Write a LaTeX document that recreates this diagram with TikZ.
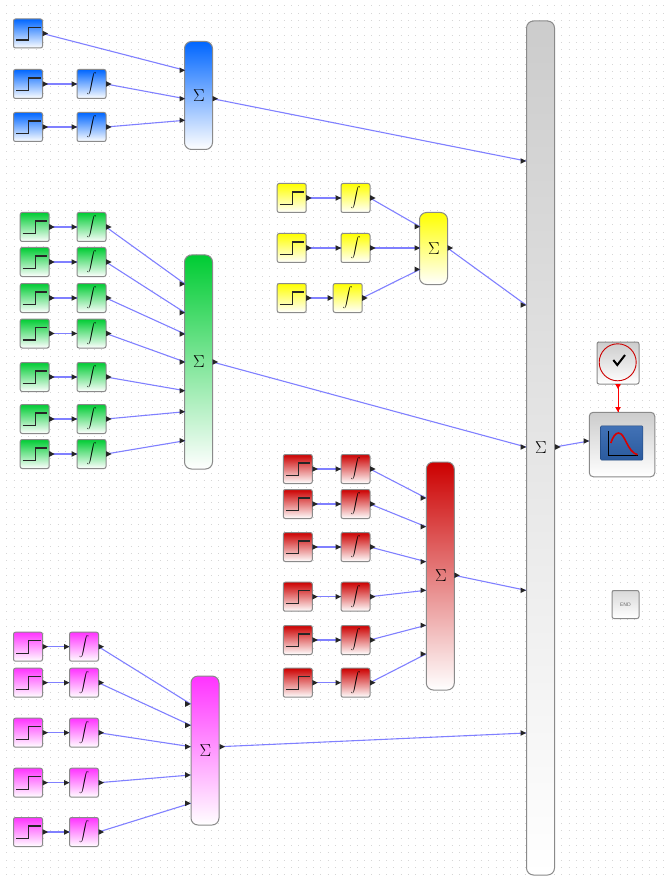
\documentclass[tikz,border=0pt]{standalone}
\usepackage{tikz}
\usetikzlibrary{arrows}
\definecolor{wirecol}{HTML}{8080FF}
\definecolor{edgecol}{HTML}{8A8A8A}
\definecolor{bluecol}{HTML}{0066FF}
\definecolor{greencol}{HTML}{00CC33}
\definecolor{yellowcol}{HTML}{FFFF00}
\definecolor{redcol}{HTML}{CC0000}
\definecolor{pinkcol}{HTML}{FF33FF}
\definecolor{graycol}{HTML}{CCCCCC}
\definecolor{screentop}{HTML}{4272B6}
\definecolor{screenbot}{HTML}{2A5A9E}
\tikzset{
  block/.style={draw=edgecol,line width=1pt,inner sep=0pt,outer sep=0pt,rounded corners=2pt,top color=#1,bottom color=white},
  stepbox/.style={block=#1,minimum width=29pt,minimum height=29pt},
  intbox/.style={block=#1,minimum width=29pt,minimum height=29pt,font=\large},
  sumbox/.style={block=#1,minimum width=28pt,rounded corners=7pt,font=\LARGE},
  wire/.style={draw=wirecol,line width=1.1pt},
  port/.style={fill=black!85},
  stepline/.style={draw=black!85,line width=1.1pt}
}
\newcommand{\wire}[2]{\draw[wire] (#1) -- (#2);
  \fill[port] (#1) ++(0,-2.8) -- ++(5.5,2.8) -- ++(-5.5,2.8) -- cycle;
  \fill[port] (#2) ++(-5.5,-2.8) -- ++(5.5,2.8) -- ++(-5.5,2.8) -- cycle;}
% source block, integrator block and the wire between them
\newcommand{\source}[5]{
  \node[stepbox=#2] (#1s) at (#3,#5) {};
  \draw[stepline] ([shift={(-12,6.5)}]#1s.center) -- ++(12.5,0) -- ++(0,-12.5) -- ++(12,0);
  \node[intbox=#2] (#1i) at (#4,#5) {$\displaystyle\int$};
  \wire{#1s.east}{#1i.west}
}
\begin{document}
\begin{tikzpicture}[x=1pt,y=-1pt]
\useasboundingbox (0,0) rectangle (667,882);
\fill[white] (0,0) rectangle (667,882);
% dotted grid
\foreach \y in {6,13.3,...,881}
  \draw[black!16,line width=1pt,dash pattern=on 1pt off 6.3pt] (6.4,\y) -- (667,\y);

% big sum, everything ends here
\node[sumbox=graycol,minimum height=854pt,font=\LARGE] (total) at (540.5,448) {\kern1pt$\Sigma$};

% blue group
\node[sumbox=bluecol,minimum height=108pt] (bsum) at (198.5,95.5) {\kern1pt$\Sigma$};
\node[stepbox=bluecol] (b1s) at (28,33.5) {};
\draw[stepline] ([shift={(-12,6.5)}]b1s.center) -- ++(12.5,0) -- ++(0,-12.5) -- ++(12,0);
\source{b2}{bluecol}{28}{91.5}{84}
\source{b3}{bluecol}{28}{91.5}{127}
\coordinate (bin1) at (185,70.3);
\coordinate (bin2) at (185,98.7);
\coordinate (bin3) at (185,120.3);
\wire{b1s.east}{bin1}
\wire{b2i.east}{bin2}
\wire{b3i.east}{bin3}

% green group
\node[sumbox=greencol,minimum height=214pt] (gsum) at (198.5,362) {\kern1pt$\Sigma$};
\foreach \n/\y/\t in {1/227/284,2/262/312.7,3/298/334,4/333.5/362,5/377/390.7,6/419/411.7,7/454/440.7} {
  \source{g\n}{greencol}{34.7}{91.5}{\y}
  \coordinate (gin\n) at (185,\t);
  \wire{g\n i.east}{gin\n}
}

% yellow group
\node[sumbox=yellowcol,minimum height=72pt] (ysum) at (433.5,248.5) {\kern1pt$\Sigma$};
\source{y1}{yellowcol}{291.7}{355.5}{198}
\source{y2}{yellowcol}{291.7}{355.5}{248}
\source{y3}{yellowcol}{291.7}{347.7}{298}
\coordinate (yin1) at (420,226.7);
\coordinate (yin2) at (420,248);
\coordinate (yin3) at (420,269.3);
\wire{y1i.east}{yin1}
\wire{y2i.east}{yin2}
\wire{y3i.east}{yin3}

% red group
\node[sumbox=redcol,minimum height=228pt] (rsum) at (440.3,576) {\kern1pt$\Sigma$};
\foreach \n/\y/\t in {1/469/498,2/504/526.7,3/547/561.7,4/596.7/590.3,5/640/625.3,6/682.7/654} {
  \source{r\n}{redcol}{297.8}{355.5}{\y}
  \coordinate (rin\n) at (426,\t);
  \wire{r\n i.east}{rin\n}
}

% pink group
\node[sumbox=pinkcol,minimum height=149pt] (psum) at (205,750.5) {\kern1pt$\Sigma$};
\foreach \n/\y/\t in {1/646.7/704,2/682.7/725.3,3/732.7/746.7,4/782.7/775,5/832/803.3} {
  \source{p\n}{pinkcol}{28}{84}{\y}
  \coordinate (pin\n) at (190.7,\t);
  \wire{p\n i.east}{pin\n}
}

% group outputs
\coordinate (bout) at (212.5,98.7);
\coordinate (gout) at (212.5,362);
\coordinate (yout) at (447.5,248);
\coordinate (rout) at (454.3,575.3);
\coordinate (pout) at (219.5,746.7);
\coordinate (tin1) at (526,161);
\coordinate (tin2) at (526,305);
\coordinate (tin3) at (526,447);
\coordinate (tin4) at (526,590.3);
\coordinate (tin5) at (526,733);
\wire{bout}{tin1}
\wire{yout}{tin2}
\wire{gout}{tin3}
\wire{rout}{tin4}
\wire{pout}{tin5}

% scope
\node[block=black!20,minimum width=65.5pt,minimum height=64.5pt,rounded corners=4pt] (scope) at (622,444.5) {};
\node[draw=screenbot!80!black,line width=0.5pt,rounded corners=1pt,top color=screentop,bottom color=screenbot,minimum width=42.3pt,minimum height=34.3pt,inner sep=0pt] (screen) at (621.8,443) {};
\draw[black,line width=0.9pt] ([shift={(-13,-11.6)}]screen.center) -- ++(0,23.6) -- ++(29.6,0);
\draw[red!85!black,line width=1.6pt] (610.8,443) .. controls (612.8,437) and (615.4,433) .. (618.4,433) .. controls (625.4,433) and (627,452) .. (637.4,454.7);
\coordinate (scopein) at (589,441);
\coordinate (totalout) at (555,447);
\wire{totalout}{scopein}

% clock
\node[block=black!20,minimum width=42pt,minimum height=42pt] (clock) at (618,363) {};
\node[circle,draw=red!80!black,line width=0.9pt,minimum size=37pt,inner sep=0pt] (dial) at (617.7,362.3) {};
\draw[black,line width=2pt] ([shift={(-4.4,-2.3)}]dial.center) -- ++(4,5) -- ++(7.7,-10);
\coordinate (clockout) at (618,384);
\coordinate (scopetop) at (618,412);
\draw[red,line width=0.9pt] (clockout) -- (scopetop);
\fill[red] (clockout) ++(-2.8,0) -- ++(2.8,5) -- ++(2.8,-5) -- cycle;
\fill[red] (scopetop) ++(-2.8,-5) -- ++(2.8,5) -- ++(2.8,-5) -- cycle;

% end
\node[block=black!15,minimum width=27pt,minimum height=28pt,font=\sffamily\fontsize{5}{5}\selectfont,text=black!60] (stop) at (625.5,604.5) {END};
\end{tikzpicture}
\end{document}
